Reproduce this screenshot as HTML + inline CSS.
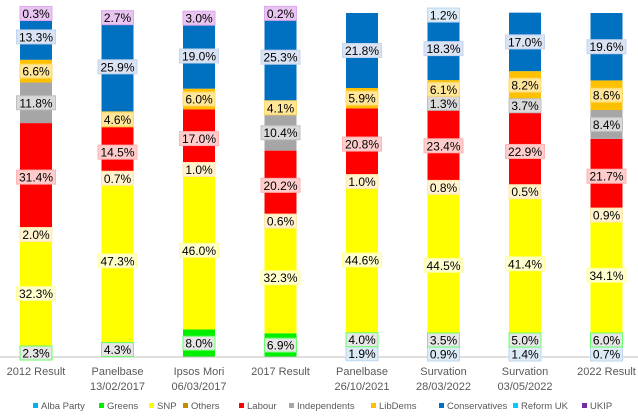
<!DOCTYPE html>
<html><head><meta charset="utf-8"><style>
body{margin:0;background:#fff;width:638px;height:414px;overflow:hidden;font-family:"Liberation Sans",sans-serif}
</style></head><body>
<svg id="chart" width="638" height="414" xmlns="http://www.w3.org/2000/svg"></svg>
<script>
const categories=[["2012 Result"],["Panelbase","13/02/2017"],["Ipsos Mori","06/03/2017"],["2017 Result"],["Panelbase","26/10/2021"],["Survation","28/03/2022"],["Survation","03/05/2022"],["2022 Result"]];
const seriesNames=["Alba Party","Greens","SNP","Others","Labour","Independents","LibDems","Conservatives","Reform UK","UKIP"];
const alba=[0,0,0,0,1.9,0.9,1.4,0.7];
const greens=[2.3,4.3,8.0,6.9,4.0,3.5,5.0,6.0];
const snp=[32.3,47.3,46.0,32.3,44.6,44.5,41.4,34.1];
const others=[2.0,0.7,1.0,0.6,1.0,0.8,0.5,0.9];
const labour=[31.4,14.5,17.0,20.2,20.8,23.4,22.9,21.7];
const independents=[11.8,0,0,10.4,0,1.3,3.7,8.4];
const libdems=[6.6,4.6,6.0,4.1,5.9,6.1,8.2,8.6];
const conservatives=[13.3,25.9,19.0,25.3,21.8,18.3,17.0,19.6];
const reform=[0,0,0,0,0,1.2,0,0];
const ukip=[0.3,2.7,3.0,0.2,0,0,0,0];
const series=[alba,greens,snp,others,labour,independents,libdems,conservatives,reform,ukip];
const barColors=["#00b0f0","#00ee00","#ffff00","#ffff00","#ff0000","#a6a6a6","#ffc000","#0070c0","#00ccff","#7030a0"];
const legendColors=["#00b0f0","#00ee00","#ffff00","#bf9000","#ff0000","#a6a6a6","#ffc000","#0070c0","#00ccff","#7030a0"];
const labelFill=["#ddebf7","#e7e6e6","#ffffcc","#fff2cc","#ffcccc","#d9d9d9","#ffe699","#dae3f3","#ddebf7","#e8c4f0"];
const labelStroke=["#bdd7ee","#66ff66","#ffff99","#ffe8b0","#ffb3b3","#c0c0c0","#ffd966","#c5d5ee","#bdd7ee","#e0a8ec"];

const svg=document.getElementById('chart');
const NS="http://www.w3.org/2000/svg";
const y0=357,y1=13;
const yScale=v=>y0-(v/100)*(y0-y1);
const xCenter=i=>36+i*81.5;
const bw=32;
function mk(t,a){const e=document.createElementNS(NS,t);for(const k in a)e.setAttribute(k,a[k]);svg.appendChild(e);return e;}

const labels=[];
categories.forEach((c,i)=>{
  let cum=0;
  let prevCy=null;
  series.forEach((s,j)=>{
    const v=s[i]; if(!v) return;
    const top=yScale(cum+v), bot=yScale(cum);
    const r=mk('rect',{x:xCenter(i)-bw/2,y:top,width:bw,height:bot-top,fill:barColors[j]});
    
    
    let cy=(top+bot)/2;
    if(prevCy!==null && cy>prevCy-14) cy=prevCy-14;
    if(cy>y0-3) cy=y0-3;
    labels.push({i,j,v,cy});
    prevCy=cy;
    cum+=v;
  });
});
mk('line',{x1:0,y1:y0,x2:638,y2:y0,stroke:'#bfbfbf','stroke-width':1});
labels.forEach(l=>{
  const txt=l.v.toFixed(1)+'%';
  const w=txt.length*7+4;
  const g=document.createElementNS(NS,'g');svg.appendChild(g);
  
  
  const r=document.createElementNS(NS,'rect');
  r.setAttribute('x',xCenter(l.i)-w/2);r.setAttribute('y',l.cy-7);r.setAttribute('width',w);r.setAttribute('height',14);
  r.setAttribute('fill',labelFill[l.j]);r.setAttribute('stroke',labelStroke[l.j]);r.setAttribute('stroke-width',1);
  g.appendChild(r);
  const t=document.createElementNS(NS,'text');
  t.setAttribute('x',xCenter(l.i));t.setAttribute('y',l.cy+4.5);t.setAttribute('text-anchor','middle');
  t.setAttribute('font-size','12');t.setAttribute('fill','#000');t.textContent=txt;
  g.appendChild(t);
});
categories.forEach((c,i)=>{
  c.forEach((line,k)=>{
    const t=mk('text',{x:xCenter(i),y:375+k*15,'text-anchor':'middle','font-size':'11',fill:'#595959'});
    t.textContent=line;
    
    
  });
});
const legX=[33,99,149,183,239,289,371,439,513,582];
seriesNames.forEach((n,j)=>{
  const g=document.createElementNS(NS,'g');svg.appendChild(g);
  
  
  const r=document.createElementNS(NS,'rect');
  r.setAttribute('x',legX[j]);r.setAttribute('y',403);r.setAttribute('width',5);r.setAttribute('height',5);r.setAttribute('fill',legendColors[j]);
  g.appendChild(r);
  const t=document.createElementNS(NS,'text');
  t.setAttribute('x',legX[j]+8);t.setAttribute('y',409);t.setAttribute('font-size','9.5');t.setAttribute('fill','#595959');
  t.textContent=n;g.appendChild(t);
});
</script>
</body></html>
